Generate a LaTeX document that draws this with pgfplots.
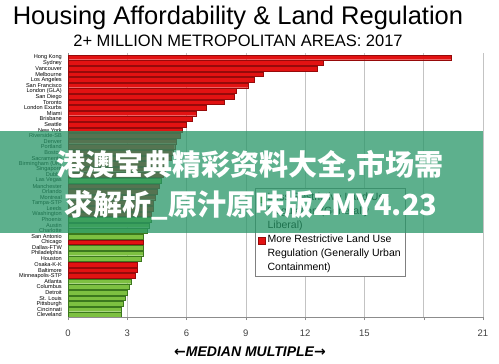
\documentclass[border=0pt]{standalone}
\usepackage{fontspec}
\setmainfont{Liberation Sans}
\newfontfamily\cjk{Noto Sans CJK SC}
\newfontfamily\djv{DejaVu Sans}
\usepackage{pgfplots}
\pgfplotsset{compat=1.18}
\definecolor{barred}{RGB}{226,18,18}
\definecolor{barredge}{RGB}{150,10,10}
\definecolor{bargreen}{RGB}{125,192,65}
\definecolor{bargreenedge}{RGB}{60,120,30}
\definecolor{banner}{RGB}{39,150,103}
\definecolor{gridgray}{RGB}{195,195,195}
\begin{document}
\begin{tikzpicture}
\path[use as bounding box] (0pt,0pt) rectangle (499pt,364pt);
\begin{axis}[
  at={(68pt,47pt)}, anchor=south west,
  scale only axis, width=415pt, height=264pt,
  xmin=0, xmax=21, ymin=0.22, ymax=47.36, y dir=reverse,
  xbar, bar width=4.7pt, bar shift=0pt,
  axis lines*=left,
  axis line style={black!45, line width=0.6pt},
  xtick={0,3,...,21}, xticklabels={0,3,6,9,12,15,,21},
  xmajorgrids, grid style={gridgray, line width=0.5pt},
  tick align=outside, major tick length=3pt,
  x tick style={black!45},
  y tick style={draw=none},
  ytick={1,...,47},
  yticklabels={Hong Kong,Sydney,Vancouver,Melbourne,Los Angeles,San Francisco,London (GLA),San Diego,Toronto,London Exurbs,Miami,Brisbane,Seattle,New York,Riverside-SB,Denver,Portland,Boston,Sacramento,Birmingham (UK),Singapore,Dublin,Las Vegas,Manchester,Orlando,Montreal,Tampa-STP,Leeds,Washington,Phoenix,Austin,Charlotte,San Antonio,Chicago,Dallas-FTW,Philadelphia,Houston,Osaka-K-K,Baltimore,Minneapolis-STP,Atlanta,Columbus,Detroit,St. Louis,Pittsburgh,Cincinnati,Cleveland},
  yticklabel style={font=\fontsize{5.6}{6}\selectfont, inner sep=0pt, xshift=-3pt},
  xticklabel style={font=\fontsize{9.5}{10}\selectfont, text=black!75, yshift=-6pt},
  /pgf/number format/assume math mode=true,
  legend style={at={(0.4506,0.4886)}, anchor=north west, draw=black!50, line width=0.5pt, fill=white,
    font=\fontsize{10.5}{14}\selectfont, inner xsep=3pt, inner ysep=2pt, row sep=1pt,
    cells={anchor=north west, align=left}},
  legend image code/.code={\draw[#1, line width=0.4pt] (0pt,-12pt) rectangle (7pt,-5pt);},
]
\addplot[forget plot, fill=barred, draw=barredge, line width=0.4pt] coordinates {
(19.4,1) (12.9,2) (12.6,3) (9.9,4) (9.4,5) (9.1,6) (8.5,7) (8.4,8) (7.9,9) (7.0,10)
(6.5,11) (6.3,12) (6.0,13) (5.8,14) (5.7,15) (5.5,16) (5.4,17) (5.3,18) (5.2,19) (5.0,20)
(4.9,21) (4.8,22) (4.6,24) (4.5,25) (4.4,26) (4.3,27) (4.3,28) (4.2,29)
(3.8,34) (3.5,38) (3.5,39) (3.4,40)
};
\addplot[forget plot, fill=bargreen, draw=bargreenedge, line width=0.4pt] coordinates {
(4.7,23) (4.2,30) (4.1,31) (4.0,32) (3.8,33) (3.8,35) (3.8,36) (3.7,37)
(3.2,41) (3.1,42) (3.0,43) (2.9,44) (2.8,45) (2.7,46) (2.7,47)
};
\addlegendimage{fill=bargreen, draw=bargreenedge}
\addlegendentry{Less Restrictive Land Use\\Regulation (Generally\\Liberal)}
\addlegendimage{fill=barred, draw=barredge}
\addlegendentry{More Restrictive Land Use\\Regulation (Generally Urban\\Containment)}
\end{axis}
\node[anchor=base, font=\fontsize{25.5}{30}\selectfont] at (238pt,339pt) {Housing Affordability \& Land Regulation};
\node[anchor=base, font=\fontsize{16.5}{19}\selectfont] at (238pt,317pt) {2+ MILLION METROPOLITAN AREAS: 2017};
\node[anchor=base, font=\fontsize{14}{16}\selectfont\bfseries\itshape, inner sep=0pt] at (250pt,7pt) {{\djv\bfseries ←}MEDIAN MULTIPLE{\djv\bfseries →}};
\fill[banner, opacity=0.75] (0pt,131pt) rectangle (483pt,233pt);
\node[anchor=base, text=white, font=\cjk\bfseries\fontsize{29}{32}\selectfont] at (250pt,188pt) {港澳宝典精彩资料大全,市场需};
\node[anchor=base, text=white, font=\cjk\bfseries\fontsize{29}{32}\selectfont] at (251pt,148pt) {求解析\_原汁原味版ZMY4.23};
\end{tikzpicture}
\end{document}
